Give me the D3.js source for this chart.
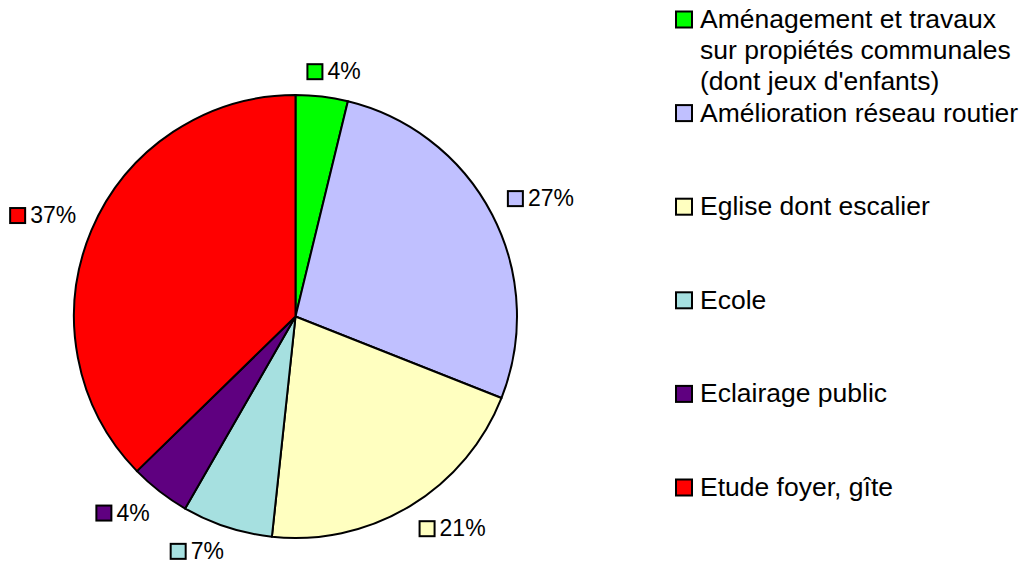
<!DOCTYPE html>
<html>
<head>
<meta charset="utf-8">
<script src="https://cdn.jsdelivr.net/npm/d3@7"></script>
<style>
html,body{margin:0;padding:0;background:#fff;}
text{font-family:"Liberation Sans",Arial,sans-serif;fill:#000;}
</style>
</head>
<body>
<svg id="chart" width="1021" height="562"></svg>
<script>
// ---- data ----
const categories = [
  "Aménagement et travaux sur propiétés communales (dont jeux d'enfants)",
  "Amélioration réseau routier",
  "Eglise dont escalier",
  "Ecole",
  "Eclairage public",
  "Etude foyer, gîte"
];
const legendLines = [
  ["Aménagement et travaux", "sur propiétés communales", "(dont jeux d'enfants)"],
  ["Amélioration réseau routier"],
  ["Eglise dont escalier"],
  ["Ecole"],
  ["Eclairage public"],
  ["Etude foyer, gîte"]
];
const values = [3.8, 27.2, 20.7, 6.6, 4.4, 37.3];
const colors = ["#00ff00", "#c0c0ff", "#ffffc0", "#a6e0e0", "#5f0080", "#ff0000"];

// ---- layout ----
const W = 1021, H = 562;
const cx = 295.5, cy = 316.5, R = 221.5;
const svg = d3.select("#chart");
svg.append("rect").attr("width", W).attr("height", H).attr("fill", "#fff");

const total = d3.sum(values);
const pie = d3.pie().sort(null).value(d => d)(values);
const arc = d3.arc().innerRadius(0).outerRadius(R);

const g = svg.append("g").attr("transform", `translate(${cx},${cy})`);
g.selectAll("path.slice").data(pie).join("path")
  .attr("class", "slice")
  .attr("d", arc)
  .attr("fill", (d, i) => colors[i])
  .attr("stroke", "#000")
  .attr("stroke-width", 2)
  .attr("stroke-linejoin", "round");

// ---- data labels (outside end) ----
const labelFont = 23, sq = 15, gap = 6, anchorR = R + 16.5;
const clamp = v => Math.max(-1, Math.min(1, v));
pie.forEach((d, i) => {
  const a = (d.startAngle + d.endAngle) / 2;
  const s = Math.sin(a), c = Math.cos(a);
  const lg = g.append("g");
  lg.append("rect")
    .attr("x", 1).attr("y", -sq - 1).attr("width", sq).attr("height", sq)
    .attr("fill", colors[i]).attr("stroke", "#000").attr("stroke-width", 2);
  const t = lg.append("text")
    .attr("x", sq + gap).attr("y", -1)
    .style("font-size", labelFont + "px")
    .text(Math.round(d.value / total * 100) + "%");
  const w = sq + gap + t.node().getComputedTextLength();
  const h = sq + 2;
  const ax = s * anchorR, ay = -c * anchorR;
  const fx = clamp(3 * s), fy = clamp(3 * c);
  const left = ax - w / 2 + fx * w / 2;
  const top = ay - h / 2 - fy * h / 2;
  lg.attr("transform", `translate(${left},${top + h})`);
});

// ---- legend ----
const legendFont = 26.5;
const lx = 676, ltx = 700, lineH = 31.2;
const ly = d3.scaleLinear().domain([0, categories.length - 1]).range([28, 496]);
const leg = svg.append("g");
categories.forEach((cat, i) => {
  const y0 = ly(i);
  leg.append("rect")
    .attr("x", lx).attr("y", y0 - 16.5).attr("width", 16).attr("height", 16)
    .attr("fill", colors[i]).attr("stroke", "#000").attr("stroke-width", 2);
  const t = leg.append("text")
    .attr("x", ltx).attr("y", y0)
    .style("font-size", legendFont + "px");
  legendLines[i].forEach((ln, j) => {
    t.append("tspan").attr("x", ltx).attr("y", y0 + j * lineH).text(ln);
  });
});
</script>
</body>
</html>
